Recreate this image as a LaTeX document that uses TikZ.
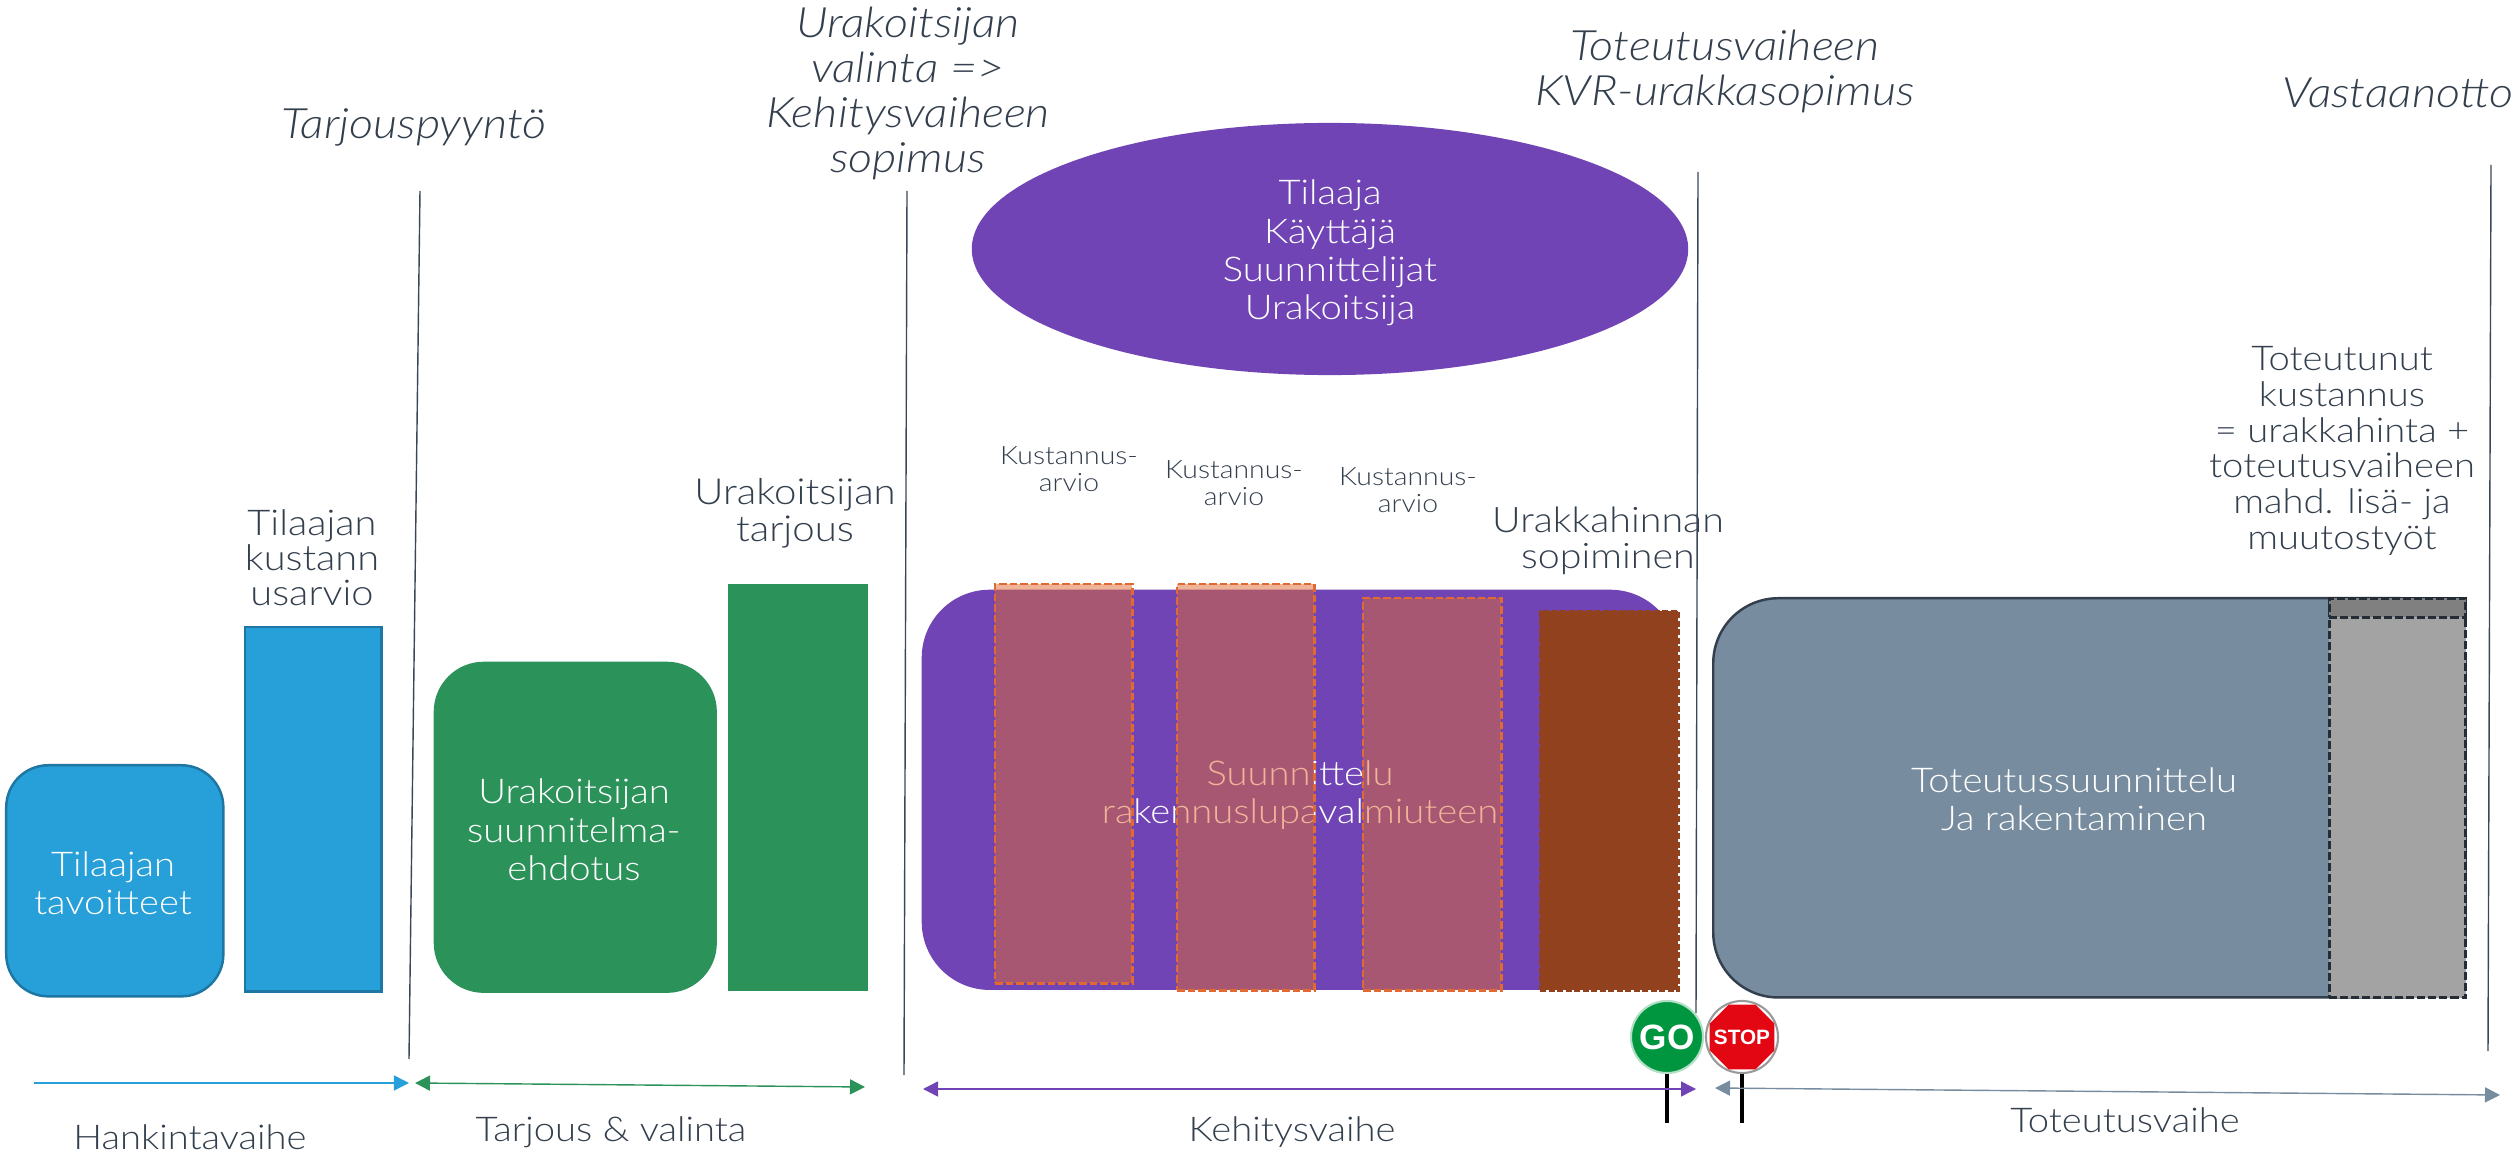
\documentclass[tikz,border=0pt]{standalone}
\usepackage{fontspec}
\setmainfont[FakeStretch=1.12]{Lato Light}
\newfontfamily\signfont{Liberation Sans}
\usetikzlibrary{arrows.meta,shapes.geometric}

\definecolor{txtdark}{HTML}{333F4D}
\definecolor{bluefill}{HTML}{279FD8}
\definecolor{greenfill}{HTML}{2B9259}
\definecolor{purplefill}{HTML}{7044B5}
\definecolor{slatefill}{HTML}{778C9E}
\definecolor{brownfill}{HTML}{92411E}
\definecolor{orangefill}{HTML}{E06A31}
\definecolor{linedark}{HTML}{3B4757}
\definecolor{gogreen}{HTML}{00963F}
\definecolor{stopred}{HTML}{E30613}

\tikzset{
  box/.style={anchor=north west, inner sep=0pt, text centered, text=white},
  lbl/.style={text=txtdark, align=center, inner sep=0pt, font=\fontsize{9.7}{10.6}\selectfont},
  toplbl/.style={lbl, font=\fontsize{10.1}{10.0}\selectfont},
  smalllbl/.style={text=txtdark, align=center, inner sep=0pt, font=\fontsize{7.2}{7.6}\selectfont},
  milestone/.style={text=txtdark, align=center, inner sep=0pt, font=\fontsize{11.9}{12.8}\selectfont\itshape},
  boxtxt/.style={text=white, align=center, inner sep=0pt, font=\fontsize{9.7}{10.9}\selectfont},
  phase/.style={-{Triangle[length=0.15cm,width=0.15cm]}, thin},
  twophase/.style={{Triangle[length=0.15cm,width=0.15cm]}-{Triangle[length=0.15cm,width=0.15cm]}, thin},
  gate/.style={linedark, line width=0.4pt},
  estimate/.style={anchor=north west, inner sep=0pt, draw=orangefill, dash pattern=on 0.075cm off 0.03cm, fill=orangefill, fill opacity=0.5, draw opacity=1, line width=0.7pt},
  extra/.style={box, draw=txtdark!70!black, dash pattern=on 0.08cm off 0.03cm, line width=0.8pt},
}

\begin{document}
\begin{tikzpicture}[x=0.01cm, y=-0.01cm]
  \useasboundingbox (0, 0) rectangle (2517, 1152);

  % hankinta
  \node[box, fill=bluefill, draw=bluefill!75!black, line width=0.7pt, minimum width=2.17cm, minimum height=2.31cm, rounded corners=0.42cm] (tavoitteet) at (5, 764) {};
  \node[boxtxt] (tavoitteettxt) at (113, 883) {Tilaajan\\tavoitteet};
  \node[box, fill=bluefill, draw=bluefill!75!black, line width=0.7pt, minimum width=1.36cm, minimum height=3.64cm] (arvio) at (244, 626) {};
  \node[toplbl] (arviotxt) at (312, 558) {Tilaajan\\kustann\\usarvio};

  % tarjous
  \node[box, fill=greenfill, minimum width=2.83cm, minimum height=3.31cm, rounded corners=0.5cm] (ehdotus) at (433, 661) {};
  \node[boxtxt] (ehdotustxt) at (574, 830) {Urakoitsijan\\suunnitelma-\\ehdotus};
  \node[box, fill=greenfill, minimum width=1.40cm, minimum height=4.07cm] (tarjous) at (727, 583) {};
  \node[lbl, font=\fontsize{10.2}{10.6}\selectfont] (tarjoustxt) at (795, 513) {Urakoitsijan\\tarjous};

  % kehitys
  \node[box, fill=purplefill, minimum width=7.56cm, minimum height=4.0cm, rounded corners=0.68cm] (suunnittelu) at (921, 589) {};
  \node[boxtxt] (suunnittelutxt) at (1300, 795) {Suunnittelu\\rakennuslupavalmiuteen};
  \node[ellipse, fill=purplefill, minimum width=7.16cm, minimum height=2.52cm, inner sep=0pt] (osapuolet) at (1330, 249) {};
  \node[boxtxt] (osapuolettxt) at (1330, 253) {Tilaaja\\Käyttäjä\\Suunnittelijat\\Urakoitsija};

  \node[estimate, minimum width=1.37cm, minimum height=3.99cm] (arvioa) at (994, 583) {};
  \node[estimate, minimum width=1.37cm, minimum height=4.06cm] (arviob) at (1176, 583) {};
  \node[estimate, minimum width=1.38cm, minimum height=3.92cm] (arvioc) at (1362, 597) {};
  \node[box, fill=brownfill, draw=brownfill, dash pattern=on 0.06cm off 0.025cm, line width=0.7pt, minimum width=1.38cm, minimum height=3.79cm] (urakkahinta) at (1539, 610) {};

  \foreach \name/\x/\y in {ka/1069/469, kb/1234/483, kc/1408/490}
    \node[smalllbl] (\name) at (\x, \y) {Kustannus-\\arvio};
  \node[lbl, font=\fontsize{10.0}{10.1}\selectfont] (sopiminen) at (1608, 541) {Urakkahinnan\\sopiminen};

  % toteutus
  \node[box, fill=slatefill, draw=txtdark, line width=0.7pt, minimum width=7.52cm, minimum height=3.99cm, rounded corners=0.65cm] (toteutus) at (1712, 597) {};
  \node[boxtxt] (toteutustxt) at (2074, 799) {Toteutussuunnittelu\\Ja rakentaminen};
  \node[extra, fill=black!36, minimum width=1.36cm, minimum height=3.99cm] (lisatyot) at (2328, 597) {};
  \node[extra, fill=black!50, minimum width=1.36cm, minimum height=0.19cm] (ylitys) at (2328, 597) {};
  \node[lbl, font=\fontsize{9.7}{10.2}\selectfont] (toteutunut) at (2342, 451) {Toteutunut\\kustannus\\= urakkahinta +\\toteutusvaiheen\\mahd. lisä- ja\\muutostyöt};

  % virstanpylvaat
  \node[milestone] (tarjouspyynto) at (414, 127) {Tarjouspyyntö};
  \node[milestone] (valinta) at (908, 93) {Urakoitsijan\\valinta =>\\Kehitysvaiheen\\sopimus};
  \node[milestone] (kvr) at (1725, 71) {Toteutusvaiheen\\KVR-urakkasopimus};
  \node[milestone] (vastaanotto) at (2398, 93) {Vastaanotto};

  \coordinate (gatea) at (420, 191);
  \coordinate (gateab) at (409, 1059);
  \coordinate (gateb) at (907, 191);
  \coordinate (gatebb) at (904, 1075);
  \coordinate (gatec) at (1698, 172);
  \coordinate (gatecb) at (1696, 1013);
  \coordinate (gated) at (2491, 165);
  \coordinate (gatedb) at (2488, 1051);
  \draw[gate] (gatea) -- (gateab);
  \draw[gate] (gateb) -- (gatebb);
  \draw[gate] (gatec) -- (gatecb);
  \draw[gate] (gated) -- (gatedb);

  % go ja stop
  \node[circle, fill=gogreen, draw=gogreen!30!white, line width=0.6pt, minimum size=0.72cm, inner sep=0pt, text=white, font=\signfont\bfseries\fontsize{10}{12}\selectfont] (gosign) at (1667, 1037) {GO};
  \node[circle, fill=white, draw=black!40, line width=0.6pt, minimum size=0.72cm, inner sep=0pt] (stopsign) at (1742, 1037) {};
  \node[regular polygon, regular polygon sides=8, fill=stopred, minimum size=0.70cm, inner sep=0pt] (stopoct) at (stopsign) {};
  \node[text=white, inner sep=0pt, font=\signfont\bfseries\fontsize{5.9}{7}\selectfont] (stoptxt) at (stopsign) {STOP};
  \coordinate (gopost) at (1667, 1123);
  \coordinate (stoppost) at (1742, 1123);
  \draw[line width=1.2pt, black] (gosign.south) -- (gopost);
  \draw[line width=1.2pt, black] (stopsign.south) -- (stoppost);

  % vaiheet
  \coordinate (hankintaa) at (34, 1083);
  \coordinate (hankintab) at (409, 1083);
  \coordinate (tarjousa) at (415, 1083);
  \coordinate (tarjousb) at (865, 1087);
  \coordinate (kehitysa) at (923, 1089);
  \coordinate (kehitysb) at (1696, 1089);
  \coordinate (toteutusa) at (1715, 1088);
  \coordinate (toteutusb) at (2500, 1095);
  \draw[phase, bluefill] (hankintaa) -- (hankintab);
  \draw[twophase, greenfill] (tarjousa) -- (tarjousb);
  \draw[twophase, purplefill] (kehitysa) -- (kehitysb);
  \draw[twophase, slatefill] (toteutusa) -- (toteutusb);

  \node[lbl] (hankintatxt) at (190, 1137) {Hankintavaihe};
  \node[lbl] (tarjoustxtb) at (611, 1132) {Tarjous \& valinta};
  \node[lbl] (kehitystxt) at (1292, 1132) {Kehitysvaihe};
  \node[lbl] (toteutustxtb) at (2125, 1120) {Toteutusvaihe};
\end{tikzpicture}
\end{document}
